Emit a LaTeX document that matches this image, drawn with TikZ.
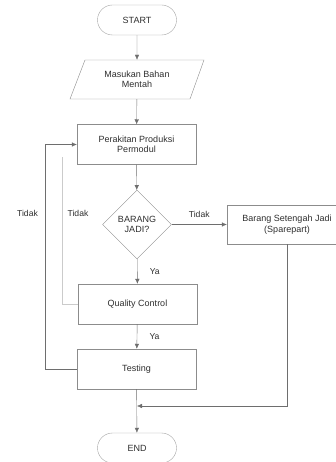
\documentclass[tikz,border=0pt]{standalone}
\usepackage{fontspec}
\setmainfont{Liberation Sans}
\usetikzlibrary{arrows.meta,positioning,shapes.geometric,shapes.misc}
\definecolor{garis}{HTML}{6E6E6E}
\definecolor{tepi}{HTML}{8C8C8C}
\definecolor{teks}{HTML}{2E2E2E}

\begin{document}
\begin{tikzpicture}[x=1pt, y=-1pt, font=\fontsize{9}{10.5}\selectfont, text=teks, >={Latex[length=5pt,width=4.5pt]},
    terminal/.style={rounded rectangle, draw=tepi!80, minimum width=79pt, minimum height=30pt, inner sep=0pt},
    proses/.style={rectangle, draw=tepi, minimum width=119pt, minimum height=40pt, inner sep=0pt, align=center},
    masukan/.style={rectangle, minimum width=120pt, minimum height=39pt, inner sep=0pt, align=center},
    keputusan/.style={diamond, draw=tepi, minimum width=69pt, minimum height=69pt, inner sep=0pt, align=center},
    alur/.style={draw=garis, ->},
    label/.style={font=\fontsize{8.6}{10}\selectfont}]
    \useasboundingbox (0,0) rectangle (336,462);
    \node[terminal] (start) at (137,20) {START};
    \node[masukan] (bahan) at (137,79.5) {Masukan Bahan\\Mentah};
    \draw[draw=tepi] (70,99) -- (85,60) -- (204,60) -- (190,99) -- cycle;
    \node[proses] (rakit) at (136.5,144.5) {Perakitan Produksi\\Permodul};
    \node[keputusan] (jadi) at (137,224.5) {BARANG\\JADI?};
    \node[proses, minimum width=120pt, minimum height=39pt] (sisa) at (287,224.5) {Barang Setengah Jadi\\(Sparepart)};
    \node[proses] (qc) at (137.5,304) {Quality Control};
    \node[proses] (uji) at (136.5,369) {Testing};
    \node[terminal] (selesai) at (137,448) {END};
    \coordinate (gabung) at (137,406);
    \coordinate (ujung) at (62,157);

    \draw[alur] (start) -- (bahan);
    \draw[alur] (bahan) -- (rakit);
    \draw[alur] (rakit) -- (jadi);
    \draw[alur] (jadi) -- node[label, above=3pt] {Tidak} (sisa);
    \draw[alur] (jadi) -- node[label, right=9pt] {Ya} (qc);
    \draw[alur] (qc) -- node[label, right=9pt] {Ya} (uji);
    \draw[alur] (uji) -- (selesai);
    \draw[alur] (sisa.south) |- (gabung);
    \draw[alur] (uji.west) -- ++(-32,0) |- (rakit.west);
    \draw[draw=tepi!45] (qc.west) -| (ujung);
    \node[label] (tidak1) at (27.5,213) {Tidak};
    \node[label] (tidak2) at (78,213) {Tidak};
\end{tikzpicture}
\end{document}
